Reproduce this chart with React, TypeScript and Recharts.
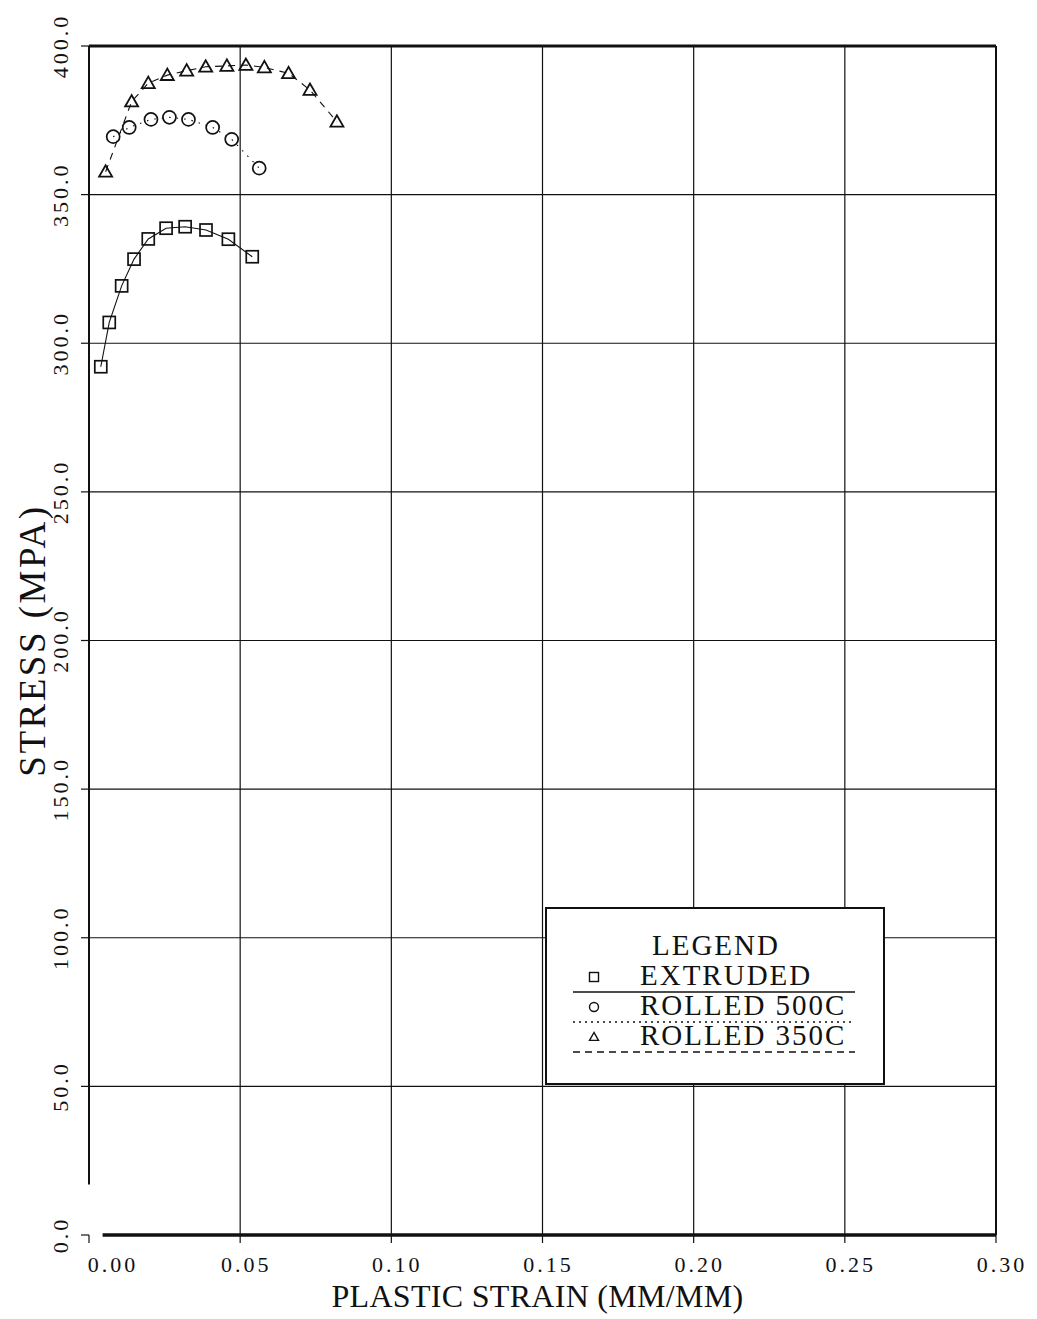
import React from 'react';
import { ScatterChart, Scatter, XAxis, YAxis, ReferenceLine, Legend, Label } from 'recharts';

const xTicks = [0, 0.05, 0.1, 0.15, 0.2, 0.25, 0.3];
const yTicks = [0, 50, 100, 150, 200, 250, 300, 350, 400];
const xGrid = [0.05, 0.1, 0.15, 0.2, 0.25];
const yGrid = [50, 100, 150, 200, 250, 300, 350];

// EXTRUDED
const extruded = [
  { x: 0.0039, y: 292.1 },
  { x: 0.0067, y: 307.0 },
  { x: 0.0108, y: 319.3 },
  { x: 0.0149, y: 328.3 },
  { x: 0.0196, y: 335.1 },
  { x: 0.0255, y: 338.7 },
  { x: 0.0318, y: 339.2 },
  { x: 0.0387, y: 338.1 },
  { x: 0.0461, y: 335.0 },
  { x: 0.054, y: 329.1 },
];

// ROLLED 500C
const rolled500 = [
  { x: 0.008, y: 369.5 },
  { x: 0.0133, y: 372.6 },
  { x: 0.0205, y: 375.3 },
  { x: 0.0266, y: 376.0 },
  { x: 0.0329, y: 375.3 },
  { x: 0.0409, y: 372.6 },
  { x: 0.0472, y: 368.6 },
  { x: 0.0563, y: 358.9 },
];

// ROLLED 350C
const rolled350 = [
  { x: 0.0055, y: 357.7 },
  { x: 0.0141, y: 381.3 },
  { x: 0.0196, y: 387.5 },
  { x: 0.0259, y: 390.2 },
  { x: 0.0323, y: 391.7 },
  { x: 0.0386, y: 393.0 },
  { x: 0.0456, y: 393.3 },
  { x: 0.0519, y: 393.6 },
  { x: 0.058, y: 392.8 },
  { x: 0.066, y: 390.8 },
  { x: 0.0731, y: 385.2 },
  { x: 0.082, y: 374.5 },
];

const seriesNames = ['EXTRUDED', 'ROLLED 500C', 'ROLLED 350C'];

const FONT = '"Liberation Serif", "DejaVu Serif", serif';
const INK = '#111';

const SquareMark = (props: any) => {
  const { cx, cy, s = 6, w = 1.7 } = props;
  return <rect x={cx - s} y={cy - s} width={s * 2} height={s * 2} fill="none" stroke={INK} strokeWidth={w} />;
};

const CircleMark = (props: any) => {
  const { cx, cy, s = 6.5, w = 1.7 } = props;
  return <circle cx={cx} cy={cy} r={s} fill="none" stroke={INK} strokeWidth={w} />;
};

const TriangleMark = (props: any) => {
  const { cx, cy, s = 6.5, w = 1.8 } = props;
  const pts = `${cx},${cy - s} ${cx - s},${cy + s * 0.75} ${cx + s},${cy + s * 0.75}`;
  return <polygon points={pts} fill="none" stroke={INK} strokeWidth={w} />;
};

const XTick = (props: any) => {
  const { x, y, payload } = props;
  const v = payload.value as number;
  const shift = v === 0 ? 24 : 6;
  return (
    <text x={x + shift} y={y + 27} textAnchor="middle" fontFamily={FONT} fontSize={22} letterSpacing={3} fill={INK}>
      {v.toFixed(2)}
    </text>
  );
};

const YTick = (props: any) => {
  const { x, y, payload } = props;
  const bx = x - 11;
  const by = y;
  return (
    <text
      x={bx}
      y={by}
      transform={`rotate(-90 ${bx} ${by})`}
      textAnchor="middle"
      fontFamily={FONT}
      fontSize={22}
      letterSpacing={3}
      fill={INK}
    >
      {(payload.value as number).toFixed(1)}
    </text>
  );
};

const legendMarks = [SquareMark, CircleMark, TriangleMark];
const legendDash = ['none', '2 4', '7 5'];

const LegendBox = () => (
  <svg width={340} height={178} style={{ display: 'block' }}>
    <rect x={1} y={1} width={338} height={176} fill="#fff" stroke={INK} strokeWidth={2} />
    <text x={171} y={48} textAnchor="middle" fontFamily={FONT} fontSize={29} letterSpacing={2} fill={INK}>
      LEGEND
    </text>
    {seriesNames.map((name, i) => {
      const Mark = legendMarks[i];
      const top = 70 + i * 30;
      return (
        <g key={name}>
          <Mark cx={49} cy={top} s={4.5} w={1.4} />
          <text x={95} y={top + 8} fontFamily={FONT} fontSize={29} letterSpacing={2} fill={INK}>
            {name}
          </text>
          <line x1={28} x2={310} y1={top + 15} y2={top + 15} stroke={INK} strokeWidth={1.3} strokeDasharray={legendDash[i]} />
        </g>
      );
    })}
  </svg>
);

export default function App() {
  return (
    <div style={{ background: '#fff', width: 1021, height: 1311 }}>
      <ScatterChart width={1021} height={1311} margin={{ top: 38, right: 33, left: 0, bottom: 8 }}>
        <XAxis
          type="number"
          dataKey="x"
          domain={[0, 0.3]}
          ticks={xTicks}
          height={76}
          axisLine={false}
          tickLine={{ stroke: INK, strokeWidth: 1.2 }}
          tickSize={8}
          tick={<XTick />}
          interval={0}
        >
          <Label
            content={(p: any) => {
              const vb = p.viewBox;
              return (
                <text
                  x={vb.x + vb.width / 2 - 5}
                  y={vb.y + 72}
                  textAnchor="middle"
                  fontFamily={FONT}
                  fontSize={32}
                  letterSpacing={0.3}
                  fill={INK}
                >
                  PLASTIC STRAIN (MM/MM)
                </text>
              );
            }}
          />
        </XAxis>
        <YAxis
          type="number"
          dataKey="y"
          domain={[0, 400]}
          ticks={yTicks}
          width={81}
          axisLine={false}
          tickLine={{ stroke: INK, strokeWidth: 1.2 }}
          tickSize={8}
          tick={<YTick />}
          interval={0}
        >
          <Label
            content={(p: any) => {
              const vb = p.viewBox;
              const cx = 37;
              const cy = vb.y + vb.height / 2;
              return (
                <text
                  x={cx}
                  y={cy}
                  transform={`rotate(-90 ${cx} ${cy})`}
                  textAnchor="middle"
                  fontFamily={FONT}
                  fontSize={37}
                  letterSpacing={2.5}
                  fill={INK}
                >
                  STRESS (MPA)
                </text>
              );
            }}
          />
        </YAxis>

        {xGrid.map((v) => (
          <ReferenceLine key={`gx${v}`} x={v} stroke={INK} strokeWidth={1.2} />
        ))}
        {yGrid.map((v) => (
          <ReferenceLine key={`gy${v}`} y={v} stroke={INK} strokeWidth={1.2} />
        ))}
        <ReferenceLine segment={[{ x: 0, y: 400 }, { x: 0.3, y: 400 }]} stroke={INK} strokeWidth={3} />
        <ReferenceLine segment={[{ x: 0.3, y: 0 }, { x: 0.3, y: 400 }]} stroke={INK} strokeWidth={2} />
        <ReferenceLine segment={[{ x: 0, y: 17 }, { x: 0, y: 400 }]} stroke={INK} strokeWidth={2} />
        <ReferenceLine segment={[{ x: 0.0045, y: 0 }, { x: 0.3, y: 0 }]} stroke={INK} strokeWidth={3.5} />

        <Scatter
          name={seriesNames[0]}
          data={extruded}
          shape={<SquareMark />}
          line={{ stroke: INK, strokeWidth: 1.1 }}
          isAnimationActive={false}
        />
        <Scatter
          name={seriesNames[1]}
          data={rolled500}
          shape={<CircleMark />}
          line={{ stroke: INK, strokeWidth: 1.1, strokeDasharray: '1.5 6' }}
          isAnimationActive={false}
        />
        <Scatter
          name={seriesNames[2]}
          data={rolled350}
          shape={<TriangleMark />}
          line={{ stroke: INK, strokeWidth: 1.1, strokeDasharray: '7 6' }}
          isAnimationActive={false}
        />

        <Legend
          layout="vertical"
          align="center"
          verticalAlign="middle"
          content={() => <LegendBox />}
          wrapperStyle={{ position: 'absolute', left: 537, top: 899, width: 340, height: 178 }}
        />
      </ScatterChart>
    </div>
  );
}
